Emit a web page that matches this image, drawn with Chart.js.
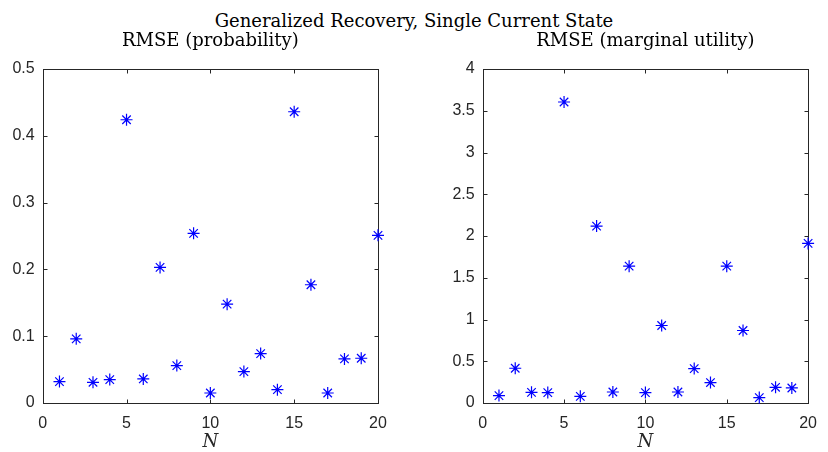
<!DOCTYPE html>
<html><head><meta charset="utf-8">
<script src="https://cdn.jsdelivr.net/npm/chart.js@4"></script>
<style>
html,body{margin:0;padding:0;background:#fff;}
#wrap{position:relative;width:828px;height:452px;overflow:hidden;background:#fff;}
#title{position:absolute;left:0;top:12px;width:828px;text-align:center;font:18px/18px "DejaVu Serif";color:#000;white-space:nowrap;}
.c{position:absolute;top:0;}
</style></head><body>
<div id="wrap">
<div id="title">Generalized Recovery, Single Current State</div>
<canvas id="c1" class="c" style="left:0" width="414" height="452"></canvas>
<canvas id="c2" class="c" style="left:414px" width="414" height="452"></canvas>
</div>
<script>
const N = [1,2,3,4,5,6,7,8,9,10,11,12,13,14,15,16,17,18,19,20];
const rmseProbability = [0.032,0.096,0.031,0.035,0.424,0.036,0.203,0.056,0.254,0.015,0.148,0.047,0.074,0.020,0.436,0.177,0.015,0.066,0.067,0.251];
const rmseMarginalUtility = [0.089,0.416,0.128,0.125,3.605,0.080,2.119,0.132,1.639,0.125,0.928,0.132,0.412,0.245,1.639,0.868,0.065,0.188,0.180,1.911];
const titles = ['RMSE (probability)', 'RMSE (marginal utility)'];
const xAxisLabel = 'N';

const boxPlugin = {
  id: 'matlabBox',
  beforeDatasetsDraw(chart) {
    const {ctx, chartArea: a, scales: {x, y}} = chart;
    ctx.save();
    ctx.strokeStyle = '#262626';
    ctx.lineWidth = 1;
    const L = Math.round(a.left) + 0.5, R = Math.round(a.right) + 0.5;
    const T = Math.round(a.top) + 0.5, B = Math.round(a.bottom) + 0.5;
    ctx.strokeRect(L, T, R - L, B - T);
    const tl = 4;
    ctx.beginPath();
    x.ticks.forEach(t => {
      const px = Math.round(x.getPixelForValue(t.value)) + 0.5;
      ctx.moveTo(px, B); ctx.lineTo(px, B - tl);
      ctx.moveTo(px, T); ctx.lineTo(px, T + tl);
    });
    y.ticks.forEach(t => {
      const py = Math.round(y.getPixelForValue(t.value)) + 0.5;
      ctx.moveTo(L, py); ctx.lineTo(L + tl, py);
      ctx.moveTo(R, py); ctx.lineTo(R - tl, py);
    });
    ctx.stroke();
    // subplot title centred over the axes box
    const txt = chart.options.plugins.matlabBox.text;
    ctx.fillStyle = '#000';
    ctx.font = '18px "DejaVu Serif", serif';
    ctx.textAlign = 'center';
    ctx.textBaseline = 'alphabetic';
    ctx.fillText(txt, (a.left + a.right) / 2, 45.7);
    ctx.restore();
  }
};

const tickFont = {family: '"Liberation Sans", Arial, sans-serif', size: 16};
const fmt = v => String(Number(Number(v).toFixed(3)));

function makeChart(id, values, yMax, yStep, title, yWidth, rightPad) {
  return new Chart(document.getElementById(id), {
    type: 'scatter',
    data: {
      datasets: [{
        data: N.map((n, i) => ({x: n, y: values[i]})),
        pointStyle: 'star',
        pointRadius: 6,
        pointHoverRadius: 6,
        borderColor: '#0000ff',
        backgroundColor: '#0000ff',
        borderWidth: 1.2,
        clip: false
      }]
    },
    options: {
      responsive: false,
      animation: false,
      devicePixelRatio: 1,
      layout: {padding: {left: 0, right: rightPad, top: 69, bottom: 0}},
      plugins: {
        legend: {display: false},
        tooltip: {enabled: false},
        title: {display: false},
        matlabBox: {text: title}
      },
      scales: {
        x: {
          type: 'linear',
          min: 0, max: 20,
          ticks: {stepSize: 5, font: tickFont, color: '#262626', padding: 11, callback: fmt},
          grid: {display: false, drawTicks: false},
          border: {display: false},
          title: {display: true, text: xAxisLabel, color: '#262626',
                  font: {family: '"DejaVu Serif", serif', size: 18, style: 'italic'},
                  padding: {top: 0, bottom: -1}},
          afterFit: s => { s.height = 49; }
        },
        y: {
          type: 'linear',
          min: 0, max: yMax,
          ticks: {stepSize: yStep, font: tickFont, color: '#262626', padding: 8, callback: fmt},
          grid: {display: false, drawTicks: false},
          border: {display: false},
          afterFit: s => { s.width = yWidth; }
        }
      }
    },
    plugins: [boxPlugin]
  });
}

makeChart('c1', rmseProbability, 0.5, 0.1, titles[0], 42.7, 36);
makeChart('c2', rmseMarginalUtility, 4, 0.5, titles[1], 68.7, 9.7);
</script>
</body></html>
